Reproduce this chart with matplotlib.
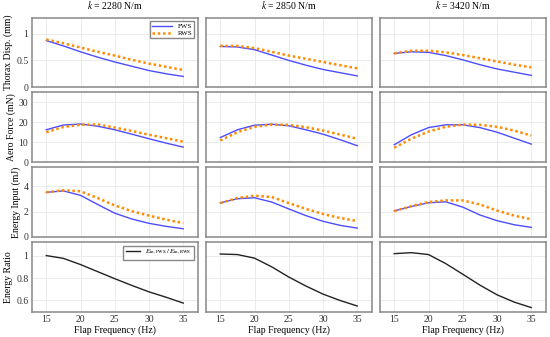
import numpy as np
from matplotlib import pyplot as plt

plt.rcParams['font.family'] = ['Liberation Serif', 'DejaVu Serif']
plt.rcParams['mathtext.fontset'] = 'stix'

freq = [15, 17.5, 20, 22.5, 25, 27.5, 30, 32.5, 35]
stiffness = [2280, 2850, 3420]

# thorax displacement (mm)
disp_fws = [[0.87, 0.77, 0.66, 0.56, 0.47, 0.39, 0.31, 0.25, 0.20],
            [0.76, 0.75, 0.70, 0.60, 0.50, 0.41, 0.33, 0.27, 0.21],
            [0.63, 0.66, 0.65, 0.59, 0.51, 0.42, 0.34, 0.28, 0.22]]
disp_rws = [[0.89, 0.82, 0.74, 0.66, 0.59, 0.51, 0.44, 0.38, 0.32],
            [0.77, 0.77, 0.73, 0.66, 0.59, 0.53, 0.47, 0.41, 0.35],
            [0.63, 0.68, 0.68, 0.65, 0.60, 0.54, 0.48, 0.42, 0.37]]

# aerodynamic force (mN)
force_fws = [[16.2, 18.6, 19.1, 18.0, 16.2, 14.0, 11.7, 9.5, 7.5],
             [12.3, 16.2, 18.5, 19.0, 18.2, 16.2, 14.0, 11.2, 8.2],
             [8.7, 13.7, 17.3, 18.7, 18.7, 17.3, 15.0, 12.0, 9.0]]
force_rws = [[15.0, 17.6, 18.7, 18.9, 17.3, 15.6, 13.7, 12.0, 10.2],
             [10.8, 15.0, 17.7, 18.8, 18.7, 17.5, 15.8, 13.8, 11.7],
             [7.2, 11.7, 15.3, 17.7, 18.8, 18.7, 17.7, 15.8, 13.3]]

# energy input (mJ)
energy_fws = [[3.52, 3.63, 3.28, 2.56, 1.87, 1.41, 1.07, 0.83, 0.64],
              [2.69, 3.01, 3.09, 2.75, 2.21, 1.68, 1.23, 0.91, 0.69],
              [2.05, 2.40, 2.69, 2.77, 2.35, 1.73, 1.28, 0.96, 0.75]]
energy_rws = [[3.52, 3.68, 3.60, 3.07, 2.48, 2.03, 1.68, 1.36, 1.09],
              [2.67, 3.07, 3.25, 3.15, 2.67, 2.21, 1.81, 1.49, 1.25],
              [2.03, 2.43, 2.75, 2.88, 2.88, 2.56, 2.08, 1.68, 1.39]]

# energy ratio E_FWS / E_RWS
ratio = [[1.000, 0.975, 0.920, 0.857, 0.794, 0.734, 0.677, 0.629, 0.577],
         [1.014, 1.009, 0.977, 0.900, 0.809, 0.729, 0.657, 0.600, 0.551],
         [1.017, 1.026, 1.009, 0.929, 0.834, 0.737, 0.651, 0.586, 0.537]]

ylabels = ['Thorax Disp. (mm)', 'Aero Force (mN)', 'Energy Input (mJ)', 'Energy Ratio']
ylims = [(0, 1.3), (0, 35), (0, 5.5), (0.5, 1.12)]
yticks = [[0, 0.5, 1], [0, 10, 20, 30], [0, 2, 4], [0.6, 0.8, 1]]
yticklabels = [['0', '0.5', '1'], ['0', '10', '20', '30'], ['0', '2', '4'], ['0.6', '0.8', '1']]

blue = '#4d4dff'
orange = '#ff8c00'
fs = 7

fig, axarr = plt.subplots(4, 3, figsize=(5.5, 3.37), dpi=100, sharex=True, sharey='row')
fig.subplots_adjust(left=0.058, right=0.992, top=0.948, bottom=0.075, wspace=0.05, hspace=0.075)

pairs = [(disp_fws, disp_rws), (force_fws, force_rws), (energy_fws, energy_rws)]
for j in range(3):
    for i in range(3):
        ax = axarr[i, j]
        fws, rws = pairs[i]
        ax.plot(freq, fws[j], '-', color=blue, lw=1.0, label='FWS')
        ax.plot(freq, rws[j], color=orange, lw=1.8, dashes=(1.0, 1.1), label='RWS')
    axarr[3, j].plot(freq, ratio[j], '-', color='#222222', lw=1.0,
                     label=r'$E_{\rm in,FWS}\,/\,E_{\rm in,RWS}$')
    axarr[0, j].set_title(r'$k$ = %d N/m' % stiffness[j], fontsize=fs, pad=6)
    axarr[3, j].set_xlabel('Flap Frequency (Hz)', fontsize=fs, labelpad=1)

for i in range(4):
    for j in range(3):
        ax = axarr[i, j]
        ax.set_xlim(12.9, 37.1)
        ax.set_ylim(*ylims[i])
        ax.set_yticks(yticks[i])
        ax.set_yticklabels(yticklabels[i])
        ax.set_xticks([15, 20, 25, 30, 35])
        ax.grid(True, color='#e8e8e8', lw=0.6)
        ax.set_axisbelow(True)
        ax.tick_params(length=0, labelsize=fs, pad=2.5, colors='#333333')
        for s in ax.spines.values():
            s.set_color('#888888')
            s.set_linewidth(1.1)
    axarr[i, 0].set_ylabel(ylabels[i], fontsize=fs, labelpad=2)

leg = axarr[0, 0].legend(loc='upper right', fontsize=5, fancybox=False, framealpha=1,
                         edgecolor='#888888', handlelength=2.8, borderpad=0.3, labelspacing=0.2)
leg = axarr[3, 0].legend(loc='upper right', fontsize=5, fancybox=False, framealpha=1,
                         edgecolor='#888888', handlelength=2.0, borderpad=0.35)

plt.savefig('out.png', dpi=100)
